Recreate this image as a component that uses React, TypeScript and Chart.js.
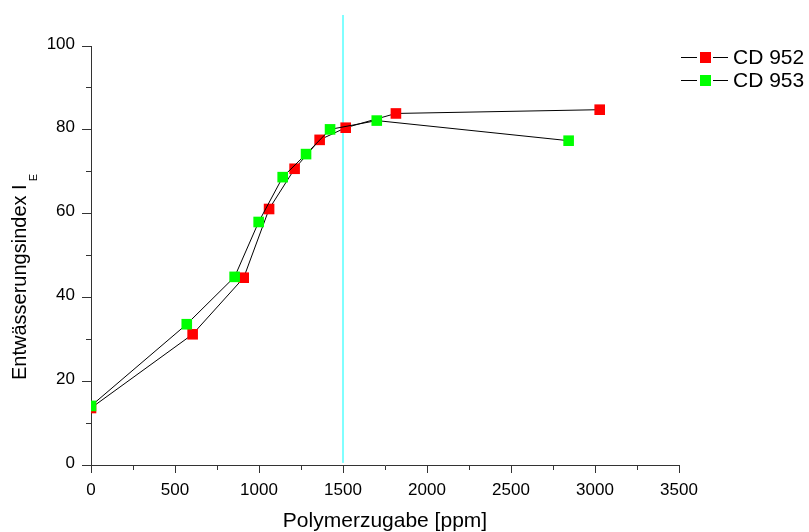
import React, { useEffect, useRef } from "react";
import { Chart, registerables } from "chart.js";

Chart.register(...registerables);

const SERIES_NAMES = ["CD 952", "CD 953"];
const SERIES_COLORS = ["#ff0000", "#00ff00"];
const CD952_X = [0, 605, 909, 1060, 1212, 1361, 1516, 1815, 3028];
const CD952_Y = [13.6, 31.2, 44.7, 61.1, 70.7, 77.6, 80.5, 83.9, 84.8];
const CD953_X = [0, 570, 855, 998, 1141, 1280, 1423, 1701, 2843];
const CD953_Y = [14.1, 33.6, 44.9, 58.0, 68.7, 74.2, 80.1, 82.2, 77.4];
const REF_X = 1500;
const REF_Y = [0.5, 107.4];
const X_MIN = 0;
const X_MAX = 3500;
const X_LABEL_STEP = 500;
const X_MINOR_STEP = 250;
const Y_MIN = 0;
const Y_MAX = 100;
const Y_LABEL_STEP = 20;
const Y_MINOR_STEP = 10;
const X_TITLE = "Polymerzugabe [ppm]";
const Y_TITLE = "Entwässerungsindex I";
const Y_TITLE_SUB = "E";

const FONT = '"Liberation Sans", Arial, sans-serif';

const toPoints = (xs: number[], ys: number[]) => xs.map((x, i) => ({ x, y: ys[i] }));

const overlay = {
  id: "overlay",
  afterDraw(chart: any) {
    const ctx = chart.ctx as CanvasRenderingContext2D;
    const ca = chart.chartArea;
    ctx.save();
    ctx.fillStyle = "#000";
    // x title
    ctx.font = `21px ${FONT}`;
    ctx.textAlign = "center";
    ctx.textBaseline = "alphabetic";
    ctx.fillText(X_TITLE, (ca.left + ca.right) / 2, 527);
    // y title rotated
    ctx.save();
    ctx.translate(26, 380);
    ctx.rotate(-Math.PI / 2);
    ctx.textAlign = "left";
    ctx.font = `20px ${FONT}`;
    ctx.fillText(Y_TITLE, 0, 0);
    const w = ctx.measureText(Y_TITLE).width;
    ctx.font = `11px ${FONT}`;
    ctx.fillText(Y_TITLE_SUB, w + 3, 11);
    ctx.restore();
    // legend
    const rows = [57, 80];
    SERIES_NAMES.forEach((name, i) => {
      const y = rows[i];
      ctx.strokeStyle = "#000";
      ctx.lineWidth = 1;
      ctx.beginPath();
      ctx.moveTo(681, y + 0.5);
      ctx.lineTo(697, y + 0.5);
      ctx.moveTo(713, y + 0.5);
      ctx.lineTo(728, y + 0.5);
      ctx.stroke();
      ctx.fillStyle = SERIES_COLORS[i];
      ctx.fillRect(700, y - 5, 11, 11);
      ctx.fillStyle = "#000";
      ctx.font = `21px ${FONT}`;
      ctx.textAlign = "left";
      ctx.textBaseline = "middle";
      ctx.fillText(name, 733, y + 1);
    });
    ctx.restore();
  },
};

export default function App() {
  const ref = useRef<HTMLCanvasElement | null>(null);
  useEffect(() => {
    document.body.style.margin = "0";
    document.body.style.overflow = "hidden";
    const canvas = ref.current!;
    const datasets: any[] = [
      {
        label: SERIES_NAMES[0],
        data: toPoints(CD952_X, CD952_Y),
        borderColor: "#000",
        borderWidth: 1,
        backgroundColor: SERIES_COLORS[0],
        pointStyle: "rect",
        pointRadius: 7.5,
        pointBorderWidth: 0,
        pointBackgroundColor: SERIES_COLORS[0],
        tension: 0,
        order: 1,
      },
      {
        label: SERIES_NAMES[1],
        data: toPoints(CD953_X, CD953_Y),
        borderColor: "#000",
        borderWidth: 1,
        backgroundColor: SERIES_COLORS[1],
        pointStyle: "rect",
        pointRadius: 7.5,
        pointBorderWidth: 0,
        pointBackgroundColor: SERIES_COLORS[1],
        tension: 0,
        order: 0,
      },
      {
        label: "ref",
        data: REF_Y.map((y) => ({ x: REF_X, y })),
        borderColor: "#00ffff",
        borderWidth: 1,
        pointRadius: 0,
        clip: false,
        order: 2,
      },
    ];
    const chart = new Chart(canvas, {
      type: "line",
      data: { datasets },
      options: {
        animation: false,
        responsive: false,
        layout: { padding: { top: 46, right: 130, left: 0, bottom: 0 } },
        plugins: { legend: { display: false }, tooltip: { enabled: false } },
        scales: {
          x: {
            type: "linear",
            min: X_MIN,
            max: X_MAX,
            afterFit: (s: any) => {
              s.height = 67;
            },
            ticks: {
              stepSize: X_MINOR_STEP,
              autoSkip: false,
              maxRotation: 0,
              padding: 7,
              color: "#000",
              font: { family: FONT, size: 17 },
              callback: (v: any) => (Number(v) % X_LABEL_STEP === 0 ? String(v) : ""),
            },
            grid: {
              drawOnChartArea: false,
              drawTicks: true,
              tickLength: 8,
              tickColor: "#333",
              tickWidth: 1,
              tickBorderDash: (c: any) =>
                c.tick && c.tick.value % X_LABEL_STEP === 0 ? [] : [4, 30],
            },
            border: { display: true, color: "#333", width: 1 },
          },
          y: {
            type: "linear",
            min: Y_MIN,
            max: Y_MAX,
            afterFit: (s: any) => {
              s.width = 91;
            },
            ticks: {
              stepSize: Y_MINOR_STEP,
              autoSkip: false,
              padding: 7,
              labelOffset: -2,
              color: "#000",
              font: { family: FONT, size: 17 },
              callback: (v: any) => (Number(v) % Y_LABEL_STEP === 0 ? String(v) : ""),
            },
            grid: {
              drawOnChartArea: false,
              drawTicks: true,
              tickLength: 9,
              tickColor: "#333",
              tickWidth: 1,
              tickBorderDash: (c: any) =>
                c.tick && c.tick.value % Y_LABEL_STEP === 0 ? [] : [0, 4, 30],
            },
            border: { display: true, color: "#333", width: 1 },
          },
        },
      },
      plugins: [overlay],
    });
    return () => chart.destroy();
  }, []);
  return <canvas ref={ref} width={809} height={532} style={{ display: "block" }} />;
}
